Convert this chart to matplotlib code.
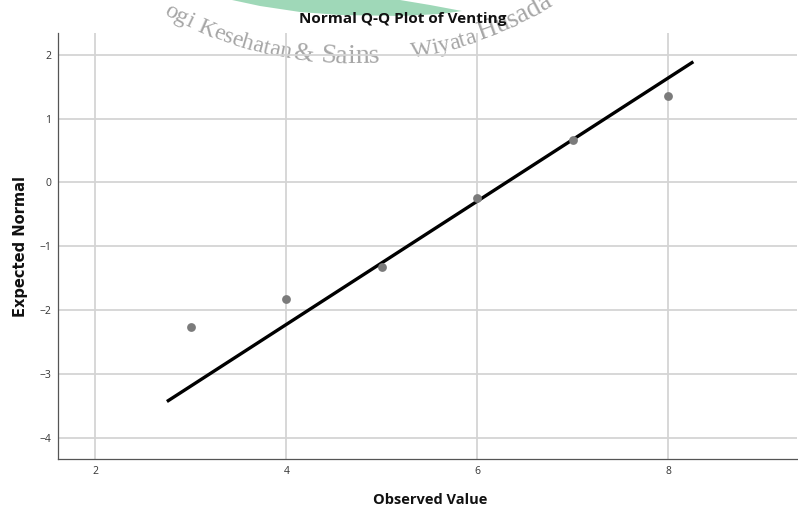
import numpy as np
import matplotlib
matplotlib.use("Agg")
import matplotlib.pyplot as plt
from matplotlib.patches import Polygon
from matplotlib.textpath import TextToPath
from matplotlib.font_manager import FontProperties

# ---- data ----
observed = [3, 4, 5, 6, 7, 8]
expected = [-2.27, -1.82, -1.32, -0.24, 0.67, 1.35]
ref_x = [2.75, 8.26]
ref_y = [-3.43, 1.89]
x_ticks = [2, 4, 6, 8]
y_ticks = [-4, -3, -2, -1, 0, 1, 2]
title = "Normal Q-Q Plot of Venting"
xlabel = "Observed Value"
ylabel = "Expected Normal"
wm_words = ["ogi", "Kesehatan", "&", "Sains", "Wiyata", "Husada"]
wm_starts = [163, 196, 293, 320, 412, 480]
wm_ends = [190, 290, 313, 380, 477, 553]

W, H = 798, 514
fig = plt.figure(figsize=(W / 100, H / 100), dpi=100)

sansfam = ['Open Sans', 'DejaVu Sans']

def px(x, y):
    return x / W, 1 - y / H

# ---- watermark (green arc + curved serif text, letter by letter) ----
green_pts = [(232, 0), (260, 6), (300, 12), (340, 15), (400, 16), (440, 14),
             (462, 11), (430, 5), (400, 0)]
fig.patches.append(Polygon([px(*p) for p in green_pts], closed=True,
                           transform=fig.transFigure, facecolor='#9fd8b8',
                           edgecolor='none', zorder=0))

cx, cy, R = 350.0, -320.0, 383.0
base_size = 18
t2p = TextToPath()
for word, x0, x1 in zip(wm_words, wm_starts, wm_ends):
    prop = FontProperties(family='Liberation Serif', size=base_size)
    wpx = t2p.get_text_width_height_descent(word, prop, ismath=False)[0] * 100 / 72
    th0 = np.arcsin((x0 - cx) / R)
    th1 = np.arcsin((x1 - cx) / R)
    scale = (R * (th1 - th0)) / wpx
    size = base_size * scale
    for i, ch in enumerate(word):
        off = 0.0
        if i > 0:
            off = t2p.get_text_width_height_descent(word[:i], prop, ismath=False)[0] * 100 / 72 * scale
        th = th0 + off / R
        xx = cx + R * np.sin(th)
        yy = cy + R * np.cos(th)
        fig.text(*px(xx, yy), ch, fontsize=size, family='Liberation Serif',
                 color='#a6a6a6', ha='left', va='baseline',
                 rotation=np.degrees(th), rotation_mode='anchor', zorder=0)

ax = fig.add_axes([58 / W, 1 - 459 / H, (797 - 58) / W, (459 - 33) / H])
ax.set_zorder(1)
ax.patch.set_alpha(0)

# ---- main plot ----
ax.grid(True, color='#d4d4d4', linewidth=1.3)
ax.set_axisbelow(True)
ax.plot(ref_x, ref_y, color='black', linewidth=2.4, solid_capstyle='butt', zorder=3)
ax.scatter(observed, expected, s=40, color='#7b7b7b', zorder=4, linewidths=0)

ax.set_xlim(1.61, 9.345)
ax.set_ylim(-4.33, 2.34)
ax.set_xticks(x_ticks)
ax.set_yticks(y_ticks)
ax.tick_params(length=0, labelsize=7.5, colors='#333333', pad=5)
for lab in ax.get_xticklabels() + ax.get_yticklabels():
    lab.set_family(sansfam)
for s in ['top', 'right']:
    ax.spines[s].set_visible(False)
for s in ['left', 'bottom']:
    ax.spines[s].set_color('#555555')
    ax.spines[s].set_linewidth(0.9)

fig.text(*px(430, 500), xlabel, family=sansfam, fontweight='bold',
         fontsize=10.5, ha='center', va='center', color='#111111')
fig.text(*px(21, 246), ylabel, family='DejaVu Sans', fontweight='bold',
         fontsize=10.5, ha='center', va='center', rotation=90, color='#111111')
fig.text(*px(403, 19), title, family=sansfam, fontweight='bold',
         fontsize=11, ha='center', va='center', color='#111111', zorder=5)

fig.savefig("out.png", dpi=100)
